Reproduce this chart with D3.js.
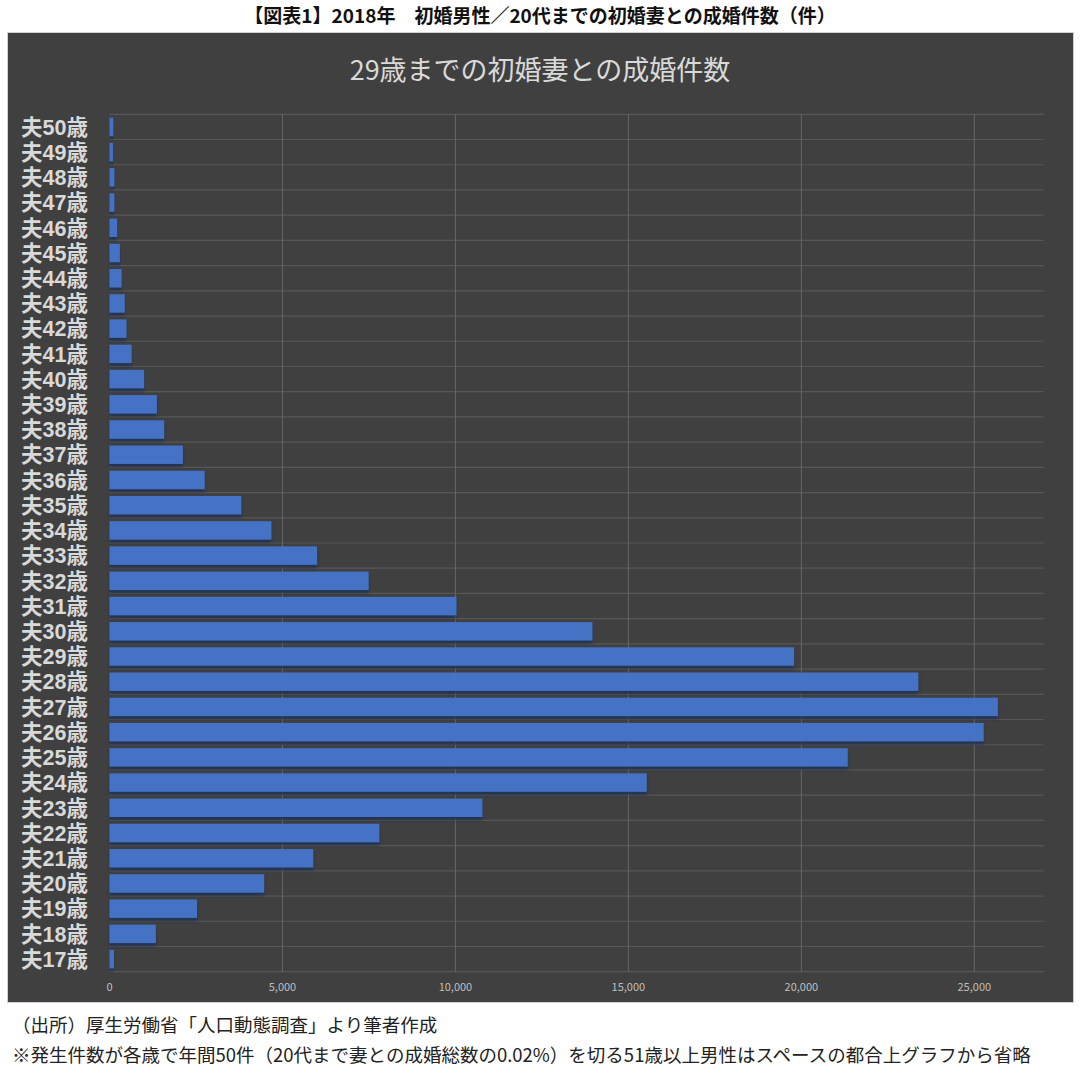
<!DOCTYPE html>
<html><head><meta charset="utf-8">
<script src="https://cdn.jsdelivr.net/npm/d3@7"></script>
<style>
body{margin:0;background:#fff;}
text{font-family:"Noto Sans CJK JP","Noto Sans",sans-serif;}
text.cat{font-family:"Liberation Sans","Noto Sans CJK JP",sans-serif;}
</style></head>
<body>
<svg id="c" width="1080" height="1069"></svg>
<script>
const pageTitle = "【図表1】2018年　初婚男性／20代までの初婚妻との成婚件数（件）";
const chartTitle = "29歳までの初婚妻との成婚件数";
const note1 = "（出所）厚生労働省「人口動態調査」より筆者作成";
const note2 = "※発生件数が各歳で年間50件（20代まで妻との成婚総数の0.02%）を切る51歳以上男性はスペースの都合上グラフから省略";
const categories = ["夫50歳","夫49歳","夫48歳","夫47歳","夫46歳","夫45歳","夫44歳","夫43歳","夫42歳","夫41歳","夫40歳","夫39歳","夫38歳","夫37歳","夫36歳","夫35歳","夫34歳","夫33歳","夫32歳","夫31歳","夫30歳","夫29歳","夫28歳","夫27歳","夫26歳","夫25歳","夫24歳","夫23歳","夫22歳","夫21歳","夫20歳","夫19歳","夫18歳","夫17歳"];
const values = [110,100,140,140,220,300,350,440,490,640,1000,1370,1580,2120,2750,3810,4680,6000,7490,10030,13960,19790,23380,25680,25270,21340,15530,10780,7800,5890,4470,2530,1340,130];
const tickValues = [0,5000,10000,15000,20000,25000];
const xMax = 27000;

const svg = d3.select("#c");
const plot = {left:109.5, right:1043.5, top:114.3, bottom:971.7};

// page title
svg.append("text").attr("x",540).attr("y",23).attr("text-anchor","middle")
  .attr("font-size",19).attr("font-weight","bold").attr("fill","#111").text(pageTitle);

// dark panel
svg.append("rect").attr("x",7.5).attr("y",32.5).attr("width",1066).attr("height",970)
  .attr("fill","#404040").attr("stroke","#d0d0d0").attr("stroke-width",1);

svg.append("text").attr("x",540).attr("y",80).attr("text-anchor","middle")
  .attr("font-size",27).attr("fill","#d9d9d9").text(chartTitle);

const x = d3.scaleLinear().domain([0,xMax]).range([plot.left,plot.right]);
const y = d3.scaleBand().domain(categories).range([plot.top,plot.bottom]).paddingInner(0.27).paddingOuter(0.135);
const yb = d3.scaleBand().domain(categories).range([plot.top,plot.bottom]);

// horizontal gridlines at band boundaries
const bounds = categories.map(c=>yb(c)).concat([plot.bottom]);
svg.append("g").selectAll("line").data(bounds).join("line")
  .attr("x1",plot.left).attr("x2",plot.right)
  .attr("y1",d=>d).attr("y2",d=>d)
  .attr("stroke","#575757").attr("stroke-width",1.2);

// vertical gridlines
svg.append("g").selectAll("line").data(tickValues.filter(d=>d>0)).join("line")
  .attr("x1",d=>x(d)).attr("x2",d=>x(d))
  .attr("y1",plot.top).attr("y2",plot.bottom)
  .attr("stroke","#666").attr("stroke-width",1);

// shadow filter
const defs = svg.append("defs");
const f = defs.append("filter").attr("id","sh").attr("x","-5%").attr("y","-30%").attr("width","110%").attr("height","180%");
f.append("feDropShadow").attr("dx",0).attr("dy",3).attr("stdDeviation",1.8)
  .attr("flood-color","#1e3355").attr("flood-opacity",0.9);

svg.append("g").selectAll("rect").data(values).join("rect")
  .attr("x",x(0)).attr("y",(d,i)=>y(categories[i]))
  .attr("width",d=>x(d)-x(0)).attr("height",y.bandwidth())
  .attr("fill","#4472C4").attr("filter","url(#sh)");

// category labels
svg.append("g").selectAll("text").data(categories).join("text")
  .attr("class","cat")
  .attr("x",88).attr("y",d=>yb(d)+yb.bandwidth()/2)
  .attr("dy","0.36em").attr("text-anchor","end")
  .attr("font-size",21.5).attr("font-weight","bold").attr("fill","#d9d9d9")
  .text(d=>d);

// x axis tick labels
const fmt = d3.format(",");
svg.append("g").selectAll("text").data(tickValues).join("text")
  .attr("x",d=>x(d)).attr("y",991).attr("text-anchor","middle")
  .attr("font-size",11).attr("fill","#bfbfbf").text(d=>fmt(d));

// notes
svg.append("text").attr("x",12).attr("y",1032).attr("font-size",18.5).attr("fill","#222").text(note1);
svg.append("text").attr("x",12).attr("y",1062).attr("font-size",18.5).attr("fill","#222").text(note2);
</script>
</body></html>
